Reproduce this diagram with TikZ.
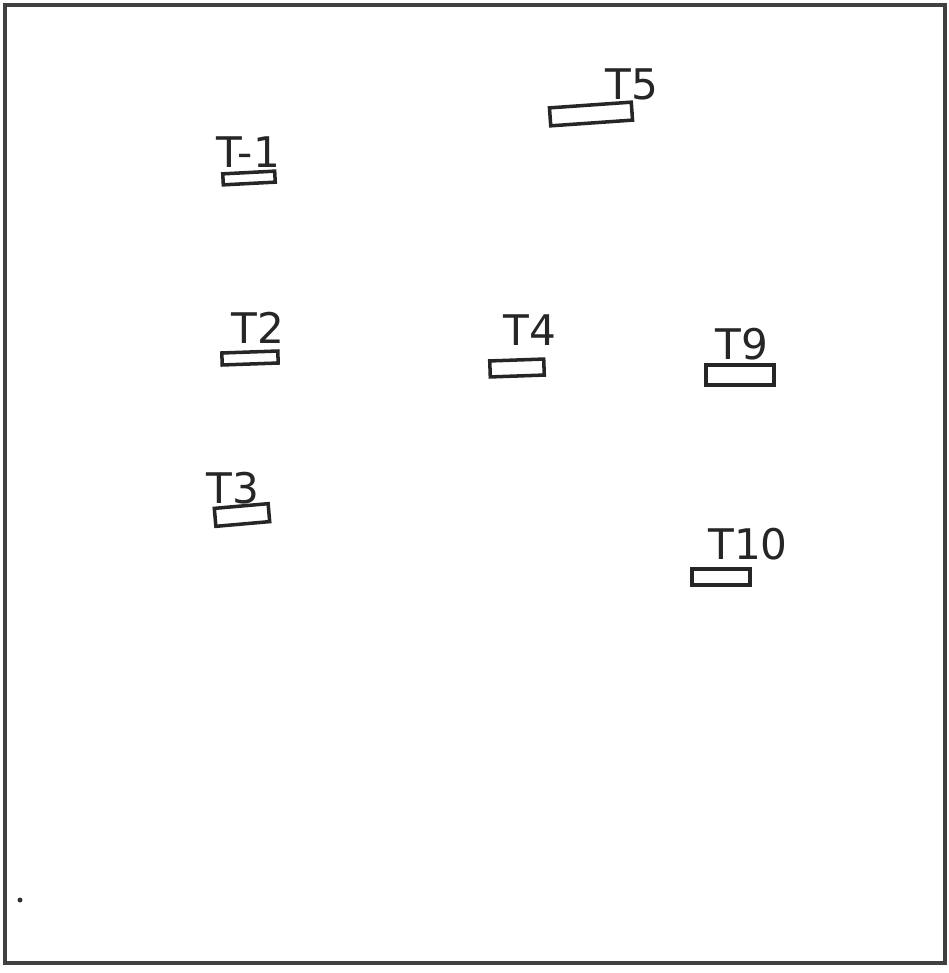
\documentclass[tikz,border=0pt]{standalone}
\usepackage{fontspec}
\setsansfont{DejaVu Sans}
\usetikzlibrary{positioning}

\newcommand{\px}{0.01cm}

\begin{document}
\begin{tikzpicture}[x=0.01cm, y=-0.01cm,
  slot/.style={draw=black!85, line width=1pt, inner sep=0pt},
  tag/.style={font=\sffamily\large, text=black!85, inner sep=0pt}]
\useasboundingbox (0,0) rectangle (949,973);
\draw [black!75, line width=1.2pt] (5,5) rectangle (945,963);
\fill [black!80] (20,900) circle (2.5);
\begin{scope}
% name / slot x,y / width / height / tilt / label x,y
\foreach \name/\x/\y/\w/\h/\r/\lx/\ly/\txt in {
    m1/249/178/52/11/3/248/152/T-1,
    t5/591/114/82/18/4/632/84/T5,
    t2/250/358/56/12/2/258/328/T2,
    t4/517/368/54/16/2/530/330/T4,
    t9/740/375/68/20/0/742/344/T9,
    t3/242/515/54/18/5/233/488/T3,
    t10/721/577/58/16/0/748/544/T10} {
  \node [slot, minimum width=\w*\px, minimum height=\h*\px, rotate=\r] (slot-\name) at (\x,\y) {};
  \node [tag] (tag-\name) at (\lx,\ly) {\txt};
}
\end{scope}
\end{tikzpicture}
\end{document}
